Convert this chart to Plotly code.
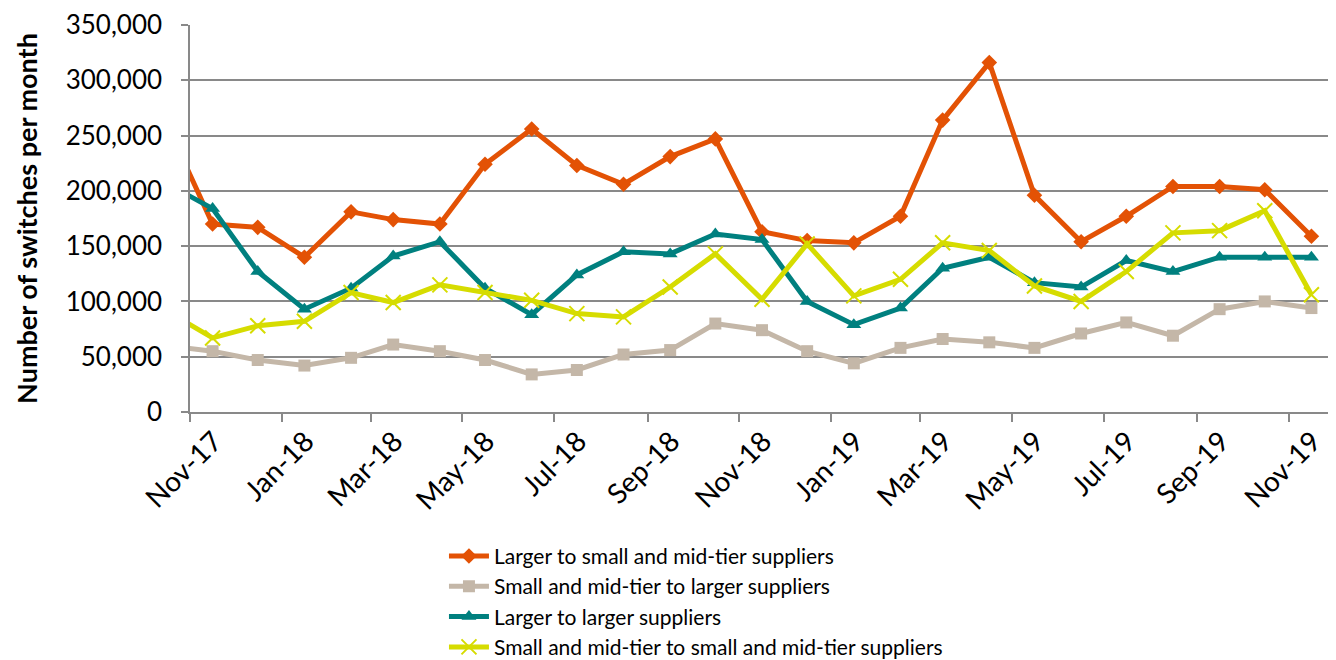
import plotly.graph_objects as go

dates = ["2017-10-16", "2017-11-16", "2017-12-16", "2018-01-16", "2018-02-16", "2018-03-16",
         "2018-04-16", "2018-05-16", "2018-06-16", "2018-07-16", "2018-08-16", "2018-09-16",
         "2018-10-16", "2018-11-16", "2018-12-16", "2019-01-16", "2019-02-16", "2019-03-16",
         "2019-04-16", "2019-05-16", "2019-06-16", "2019-07-16", "2019-08-16", "2019-09-16",
         "2019-10-16", "2019-11-16"]

larger_to_small = [262000, 170000, 167000, 140000, 181000, 174000, 170000, 224000, 256000,
                   223000, 206000, 231000, 247000, 163000, 155000, 153000, 177000, 264000,
                   316000, 196000, 154000, 177000, 204000, 204000, 201000, 159000]
small_to_larger = [60000, 55000, 47000, 42000, 49000, 61000, 55000, 47000, 34000, 38000,
                   52000, 56000, 80000, 74000, 55000, 44000, 58000, 66000, 63000, 58000,
                   71000, 81000, 69000, 93000, 100000, 94000]
larger_to_larger = [207000, 184000, 127000, 93000, 112000, 141000, 154000, 112000, 88000,
                    124000, 145000, 143000, 161000, 156000, 100000, 79000, 94000, 130000,
                    140000, 117000, 113000, 137000, 127000, 140000, 140000, 140000]
small_to_small = [92000, 67000, 78000, 82000, 108000, 99000, 115000, 108000, 101000, 89000,
                  86000, 113000, 143000, 102000, 152000, 105000, 120000, 153000, 146000,
                  114000, 100000, 127000, 162000, 164000, 182000, 106000]

series_names = ["Larger to small and mid-tier suppliers",
                "Small and mid-tier to larger suppliers",
                "Larger to larger suppliers",
                "Small and mid-tier to small and mid-tier suppliers"]
series_values = [larger_to_small, small_to_larger, larger_to_larger, small_to_small]
colors = ["#E35205", "#C4B7A8", "#00807F", "#D6DC00"]
symbols = ["diamond", "square", "triangle-up", "x-thin-open"]
sizes = [12, 12, 13, 15]

FONT = "Lato"
fig = go.Figure()
for name, vals, c, s, sz in zip(series_names, series_values, colors, symbols, sizes):
    marker = dict(symbol=s, size=sz, color=c)
    if s == "x-thin-open":
        marker["line"] = dict(color=c, width=2)
    fig.add_trace(go.Scatter(x=dates, y=vals, name=name, mode="lines+markers",
                             line=dict(color=c, width=5), marker=marker))

fig.update_layout(
    width=1328, height=652,
    margin=dict(l=182, r=2, t=17, b=248, autoexpand=False),
    paper_bgcolor="white", plot_bgcolor="white",
    font=dict(family=FONT, color="#000000"),
    legend=dict(x=0.222, y=-0.320, xanchor="left", yanchor="top",
                font=dict(size=21, family=FONT), tracegroupgap=0,
                itemwidth=40, bgcolor="rgba(0,0,0,0)"),
    showlegend=True,
)
fig.update_xaxes(
    type="date", range=["2017-11-01", "2019-12-01"], automargin=False,
    tick0="2017-11-01", dtick="M2", tickformat="%b-%y", tickangle=-45,
    ticks="outside", ticklen=8, tickcolor="#898989", tickwidth=1.5,
    ticklabelshift=24, ticklabelstandoff=-8,
    showline=True, linecolor="#898989", linewidth=1.5, showgrid=False,
    tickfont=dict(size=28, family=FONT),
)
fig.update_yaxes(
    range=[0, 350000], dtick=50000, tickformat=",", automargin=False,
    ticks="outside", ticklen=7, tickcolor="#898989", tickwidth=1.5,
    ticklabelstandoff=14,
    showline=True, linecolor="#898989", linewidth=1.5,
    showgrid=True, gridcolor="#898989", gridwidth=1.5, zeroline=False,
    tickfont=dict(size=26, family=FONT),
    title=dict(text="<b>Number of switches per month</b>", font=dict(size=27, family=FONT), standoff=20),
)
fig.write_html("out.html")
